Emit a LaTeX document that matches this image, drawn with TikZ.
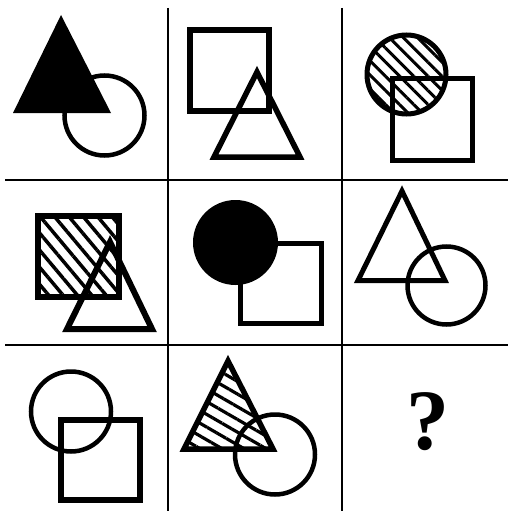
\documentclass[tikz,border=0pt]{standalone}
\usepackage{fontspec}
\newfontfamily\qfont{Liberation Serif}
\usetikzlibrary{patterns.meta}

\begin{document}
\begin{tikzpicture}[
  x=1pt, y=-1pt,
  gridline/.style={line width=2.5pt, black},
  outline/.style={line width=5.5pt, black, line join=miter},
  ring/.style={line width=4.5pt, black},
  solid/.style={fill=black, draw=none},
  hatchA/.style={pattern={Lines[angle=-45, distance=10pt, line width=3pt]}},
  hatchB/.style={pattern={Lines[angle=-50, distance=11pt, line width=3.5pt]}},
  hatchC/.style={pattern={Lines[angle=-30, distance=11pt, line width=3.2pt]}},
]
\useasboundingbox (0,0) rectangle (508,511);

% Grid
\draw[gridline] (168,8) -- (168,511);
\draw[gridline] (342,8) -- (342,511);
\draw[gridline] (5,180) -- (508,180);
\draw[gridline] (5,345) -- (508,345);

% Row 1
\fill[solid] (61,15) -- (13,113) -- (111,113) -- cycle;
\draw[ring] (104.5,115.5) circle[radius=40];

\draw[outline] (190,30) rectangle (269,111);
\draw[outline] (257,72) -- (214,157) -- (300,157) -- cycle;

\draw[hatchA] (406.5,74.5) circle[radius=39.5];
\draw[ring, line width=5pt] (406.5,74.5) circle[radius=39.5];
\draw[outline, line width=5pt] (392.5,78.5) rectangle (472.5,160.5);

% Row 2
\fill[hatchB] (38,216) rectangle (119,297);
\draw[outline, line width=6pt] (38,216) rectangle (119,297);
\draw[outline, line width=6pt] (110,242) -- (67,329) -- (152,329) -- cycle;

\fill[solid] (235.5,242.5) circle[radius=42.5];
\draw[outline, line width=5pt] (240.5,243.5) rectangle (321.5,323.5);

\draw[outline, line width=5pt] (402,191) -- (358,280.5) -- (445,280.5) -- cycle;
\draw[ring] (446.5,285.5) circle[radius=39];

% Row 3
\draw[ring] (71,411.5) circle[radius=40];
\draw[outline, line width=6pt] (61,420) rectangle (140,500);

\fill[hatchC] (228,361) -- (184,449) -- (273,449) -- cycle;
\draw[outline] (228,361) -- (184,449) -- (273,449) -- cycle;
\draw[ring] (275,454.5) circle[radius=40];

\node[font=\qfont\bfseries\fontsize{86}{90}\selectfont, inner sep=0pt] (qmark) at (428,422) {?};

\end{tikzpicture}
\end{document}
